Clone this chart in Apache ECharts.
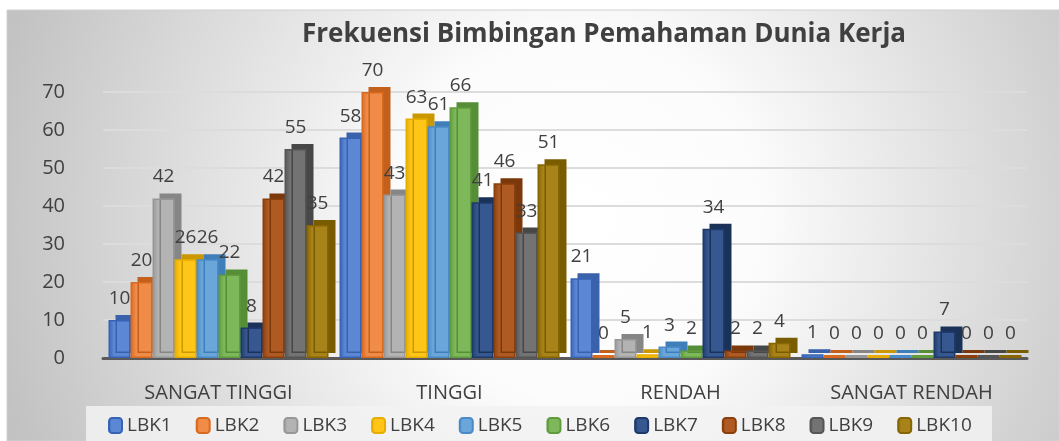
<!DOCTYPE html>
<html>
<head>
<meta charset="utf-8">
<script src="https://cdn.jsdelivr.net/npm/echarts@6/dist/echarts.min.js"></script>
<style>
  html, body { margin: 0; padding: 0; background: #fff; }
  #chart { width: 1059px; height: 441px; }
</style>
</head>
<body>
<div id="chart"></div>
<script>
// kategori sumbu x
var categories = ['SANGAT TINGGI', 'TINGGI', 'RENDAH', 'SANGAT RENDAH'];
var yTicks = [0, 10, 20, 30, 40, 50, 60, 70];
var seriesNames = ['LBK1', 'LBK2', 'LBK3', 'LBK4', 'LBK5', 'LBK6', 'LBK7', 'LBK8', 'LBK9', 'LBK10'];

// nilai tiap LBK per kategori
var lbk1 = [10, 58, 21, 1];
var lbk2 = [20, 70, 0, 0];
var lbk3 = [42, 43, 5, 0];
var lbk4 = [26, 63, 1, 0];
var lbk5 = [26, 61, 3, 0];
var lbk6 = [22, 66, 2, 0];
var lbk7 = [8, 41, 34, 7];
var lbk8 = [42, 46, 2, 0];
var lbk9 = [55, 33, 2, 0];
var lbk10 = [35, 51, 4, 0];
var allValues = [lbk1, lbk2, lbk3, lbk4, lbk5, lbk6, lbk7, lbk8, lbk9, lbk10];

// warna: [muka depan, sisi/atas, garis tepi]
var colors = [
  ['#5b87d4', '#3a62ab', '#3763b5'],
  ['#f08c48', '#c2601c', '#d86a20'],
  ['#b3b3b3', '#868686', '#979797'],
  ['#ffc617', '#cc9800', '#e6ad00'],
  ['#6ba6da', '#3f7fb9', '#4a8bc7'],
  ['#7db85a', '#568d37', '#609c3d'],
  ['#36578f', '#1a3258', '#1e3a6a'],
  ['#ae5a22', '#7a380b', '#8a3f0c'],
  ['#737373', '#474747', '#555555'],
  ['#a8831a', '#795c00', '#876500']
];

var myChart = echarts.init(document.getElementById('chart'));

var series = [];
for (var i = 0; i < seriesNames.length; i++) {
  var c = colors[i];
  series.push({
    name: seriesNames[i],
    type: 'bar',
    data: allValues[i],
    barWidth: 22,
    barGap: '0%',
    barMinHeight: 3,
    itemStyle: {
      color: {
        type: 'linear', x: 0, y: 0, x2: 1, y2: 0,
        colorStops: [
          { offset: 0, color: c[2] },
          { offset: 0.25, color: c[0] },
          { offset: 1, color: c[0] }
        ]
      },
      borderColor: c[2],
      borderWidth: 1.5,
      // sisi samping & atas batang (efek 3D)
      shadowColor: c[1],
      shadowBlur: 0,
      shadowOffsetX: 7,
      shadowOffsetY: -5
    },
    label: {
      show: true,
      position: 'top',
      distance: 12,
      color: '#404040',
      fontSize: 19,
      fontFamily: 'Open Sans'
    }
  });
}

var option = {
  animation: false,
  textStyle: { fontFamily: 'Open Sans' },
  graphic: [
    {
      type: 'rect',
      z: -10,
      shape: { x: 7, y: 10, width: 1052, height: 431 },
      style: {
        fill: {
          type: 'radial', x: 580, y: 220, r: 600, global: true,
          colorStops: [
            { offset: 0, color: '#ffffff' },
            { offset: 0.3, color: '#fcfcfc' },
            { offset: 1, color: '#c2c2c2' }
          ]
        },
        stroke: '#d0d0d0',
        lineWidth: 1
      }
    },
    {
      type: 'rect',
      z: -9,
      shape: { x: 86, y: 406, width: 906, height: 35 },
      style: { fill: 'rgba(242,242,242,0.85)' }
    }
  ],
  title: {
    text: 'Frekuensi Bimbingan Pemahaman Dunia Kerja',
    left: 297,
    top: 17,
    textStyle: {
      fontFamily: 'Open Sans',
      fontWeight: 'bold',
      fontSize: 26,
      color: '#404040'
    }
  },
  legend: {
    data: seriesNames,
    left: 103,
    top: 411,
    itemWidth: 13,
    itemHeight: 15,
    itemGap: 24,
    itemStyle: { shadowColor: 'transparent', shadowOffsetX: 0, shadowOffsetY: 0 },
    textStyle: {
      fontFamily: 'Open Sans',
      fontSize: 19,
      color: '#404040'
    }
  },
  grid: {
    left: 103,
    right: 32,
    top: 92,
    bottom: 83
  },
  xAxis: {
    type: 'category',
    data: categories,
    offset: 4,
    axisLine: { lineStyle: { color: '#595959', width: 3 } },
    axisTick: { show: false },
    axisLabel: {
      margin: 21,
      fontSize: 20,
      color: '#404040',
      fontFamily: 'Open Sans'
    }
  },
  yAxis: {
    type: 'value',
    min: yTicks[0],
    max: yTicks[yTicks.length - 1],
    interval: 10,
    axisLine: { show: false },
    axisTick: { show: false },
    axisLabel: {
      margin: 38,
      fontSize: 20,
      color: '#404040',
      fontFamily: 'Open Sans'
    },
    splitLine: { lineStyle: { color: '#dcdcdc', width: 2 } }
  },
  series: series
};

myChart.setOption(option);
</script>
</body>
</html>
